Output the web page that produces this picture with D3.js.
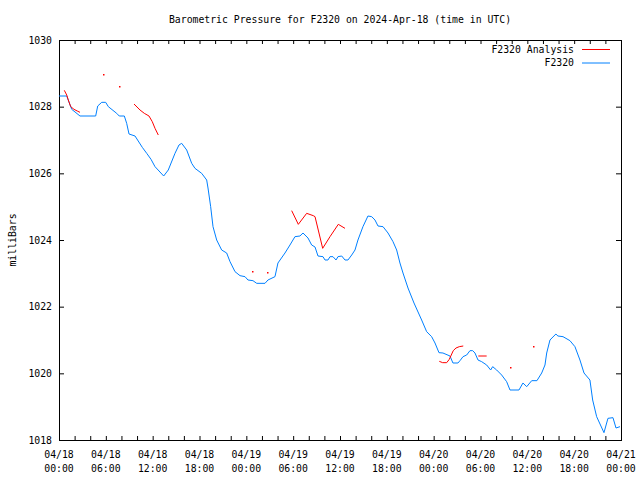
<!DOCTYPE html>
<html>
<head>
<meta charset="utf-8">
<script src="https://cdn.jsdelivr.net/npm/d3@7"></script>
<style>
  body { margin: 0; background: #fff; }
  svg { font-family: "DejaVu Sans Mono", monospace; font-size: 9.8px; }
</style>
</head>
<body>
<div id="chart"></div>
<script>
// hours since 2024-04-18 00:00 UTC
var stationHours = [0, 0.99, 1.63, 2.69, 4.70, 4.96, 5.47, 5.98, 6.32, 7.39, 7.72, 8.37, 8.67, 8.97, 9.74,
    10.67, 11.24, 11.79, 12.30, 13.41, 14.00, 14.86, 15.37, 15.72, 16.36, 17.00, 17.42, 18.28, 18.92, 19.09,
    19.43, 19.73, 20.20, 20.84, 21.48, 21.91, 22.55, 23.19, 23.83, 24.21, 24.85, 25.33, 26.39, 26.77, 27.67,
    28.05, 28.95, 29.59, 30.23, 30.87, 31.26, 31.90, 32.37, 32.80, 33.18, 33.82, 34.08, 34.46, 34.72, 35.10,
    35.49, 35.74, 36.22, 36.64, 37.02, 37.50, 37.92, 38.30, 38.94, 39.58, 40.06, 40.48, 40.87, 41.51, 42.15,
    42.79, 43.26, 43.68, 44.07, 44.71, 45.48, 46.46, 47.10, 47.74, 48.17, 48.68, 49.19, 50.09, 50.47, 51.11,
    51.37, 51.76, 52.23, 52.65, 53.00, 53.29, 53.68, 54.15, 54.79, 55.30, 55.56, 56.07, 56.71, 57.35, 57.78,
    58.93, 59.44, 59.92, 60.56, 61.23, 61.84, 62.26, 62.48, 62.90, 63.66, 63.92, 64.57, 65.46, 66.10, 66.74,
    67.26, 68.02, 68.37, 68.88, 69.82, 70.33, 70.97, 71.36, 71.87];
var stationPressure = [1028.32, 1028.32, 1027.92, 1027.72, 1027.72, 1028.02, 1028.13, 1028.13, 1028.00, 1027.80, 1027.72, 1027.72, 1027.50, 1027.18, 1027.12,
    1026.78, 1026.60, 1026.42, 1026.20, 1025.92, 1026.10, 1026.60, 1026.85, 1026.90, 1026.70, 1026.30, 1026.15, 1026.00, 1025.80, 1025.56,
    1025.00, 1024.40, 1024.00, 1023.70, 1023.61, 1023.35, 1023.05, 1022.93, 1022.90, 1022.80, 1022.78, 1022.70, 1022.70, 1022.80, 1022.90,
    1023.31, 1023.61, 1023.85, 1024.10, 1024.12, 1024.21, 1024.06, 1023.85, 1023.79, 1023.52, 1023.50, 1023.40, 1023.40, 1023.50, 1023.50,
    1023.40, 1023.50, 1023.52, 1023.40, 1023.40, 1023.55, 1023.70, 1024.00, 1024.40, 1024.72, 1024.70, 1024.60, 1024.42, 1024.40, 1024.21,
    1023.95, 1023.70, 1023.31, 1023.01, 1022.56, 1022.11, 1021.60, 1021.25, 1021.10, 1020.91, 1020.62, 1020.61, 1020.52, 1020.31, 1020.31,
    1020.38, 1020.50, 1020.55, 1020.68, 1020.68, 1020.61, 1020.40, 1020.35, 1020.25, 1020.10, 1020.20, 1020.10, 1019.95, 1019.75, 1019.50,
    1019.50, 1019.71, 1019.60, 1019.78, 1019.78, 1020.01, 1020.25, 1020.61, 1021.00, 1021.18, 1021.12, 1021.10, 1020.98, 1020.80, 1020.40,
    1020.01, 1019.80, 1019.20, 1018.70, 1018.22, 1018.65, 1018.67, 1018.36, 1018.40];

// analysis: null breaks the line
var analysisHours = [0.68, 0.99, 1.19, 1.50, 1.92, 2.34, 2.69, null, 5.68, null, 7.73, null,
    9.61, 10.38, 10.93, 11.53, 11.95, 12.30, 12.72, null, 24.76, null, 26.69, null,
    29.81, 30.66, 31.73, 32.58, 32.80, 33.78, 34.72, 35.78, 36.64, null,
    48.72, 49.15, 49.67, 50.00, 50.51, 50.86, 51.28, 51.79, null, 53.72, 54.79, null,
    57.78, null, 60.76];
var analysisPressure = [1028.49, 1028.35, 1028.20, 1028.00, 1027.92, 1027.87, 1027.83, null, 1028.98, null, 1028.62, null,
    1028.08, 1027.90, 1027.80, 1027.72, 1027.55, 1027.35, 1027.15, null, 1023.06, null, 1023.03, null,
    1024.88, 1024.47, 1024.80, 1024.73, 1024.70, 1023.75, 1024.10, 1024.47, 1024.35, null,
    1020.36, 1020.32, 1020.32, 1020.42, 1020.68, 1020.76, 1020.80, 1020.82, null, 1020.52, 1020.52, null,
    1020.18, null, 1020.82];

var yTicks = [1018, 1020, 1022, 1024, 1026, 1028, 1030];
var titleText = "Barometric Pressure for F2320 on 2024-Apr-18 (time in UTC)";
var yLabel = "milliBars";
var seriesNames = ["F2320 Analysis", "F2320"];
var seriesColors = ["#ff0000", "#0080ff"];

var width = 640, height = 480,
    margin = { top: 40, right: 19, bottom: 40, left: 59 },
    innerWidth = width - margin.left - margin.right,
    innerHeight = height - margin.top - margin.bottom;

var t0 = new Date(Date.UTC(2024, 3, 18));
function toDate(h) { return new Date(t0.getTime() + h * 3600e3); }

var xScale = d3.scaleUtc().domain([t0, toDate(72)]).range([0, innerWidth]);
var yScale = d3.scaleLinear().domain([1018, 1030]).range([innerHeight, 0]);

var svg = d3.select("#chart").append("svg")
    .attr("width", width)
    .attr("height", height);

var g = svg.append("g")
    .attr("transform", "translate(" + margin.left + "," + margin.top + ")");

// x ticks every 2h, bottom and top (inward)
var tick2h = d3.utcHour.every(2).range(t0, toDate(72.01));
var tick6h = d3.utcHour.every(6).range(t0, toDate(72.01));

g.append("g")
    .attr("transform", "translate(0," + innerHeight + ")")
    .call(d3.axisBottom(xScale).tickValues(tick2h).tickSize(-4).tickFormat(""));
g.append("g")
    .call(d3.axisTop(xScale).tickValues(tick2h).tickSize(-4).tickFormat(""));

// y axes
g.append("g")
    .call(d3.axisLeft(yScale).tickValues(yTicks).tickSize(-5).tickPadding(7).tickFormat(d3.format("d")));
g.append("g")
    .attr("transform", "translate(" + innerWidth + ",0)")
    .call(d3.axisRight(yScale).tickValues(yTicks).tickSize(-5).tickFormat(""));

g.selectAll(".domain").remove();
// drop the empty labels of the tick-only axes
g.selectAll(".tick text").filter(function() { return this.textContent === ""; }).remove();
g.selectAll(".tick line").attr("stroke", "#000");
g.selectAll(".tick text").attr("fill", "#000").style("font-family", "DejaVu Sans Mono").style("font-size", "9.8px");

// two-line time labels under the plot
var fmtDay = d3.utcFormat("%m/%d"), fmtTime = d3.utcFormat("%H:%M");
var xLab = g.append("g")
    .attr("class", "x labels")
    .attr("transform", "translate(0," + innerHeight + ")")
    .attr("text-anchor", "middle");
xLab.selectAll(".day")
    .data(tick6h)
    .enter().append("text")
    .attr("class", "day")
    .attr("x", function(d) { return xScale(d); })
    .attr("y", 14)
    .attr("dy", "0.36em")
    .text(fmtDay);
xLab.selectAll(".time")
    .data(tick6h)
    .enter().append("text")
    .attr("class", "time")
    .attr("x", function(d) { return xScale(d); })
    .attr("y", 28)
    .attr("dy", "0.36em")
    .text(fmtTime);

// frame
g.append("rect")
    .attr("x", 0.5).attr("y", 0.5)
    .attr("width", innerWidth).attr("height", innerHeight)
    .attr("fill", "none").attr("stroke", "#000");

var stationData = stationHours.map(function(h, i) { return [toDate(h), stationPressure[i]]; });
var analysisData = analysisHours.map(function(h, i) {
    return h === null ? null : [toDate(h), analysisPressure[i]];
});

var line = d3.line()
    .defined(function(d) { return d !== null; })
    .x(function(d) { return xScale(d[0]); })
    .y(function(d) { return yScale(d[1]); });

g.append("path")
    .datum(stationData)
    .attr("fill", "none")
    .attr("stroke", seriesColors[1])
    .attr("stroke-width", 1)
    .attr("d", line);

g.append("path")
    .datum(analysisData)
    .attr("fill", "none")
    .attr("stroke", seriesColors[0])
    .attr("stroke-width", 1)
    .attr("d", line);

// isolated analysis points
var lone = analysisData.filter(function(d, i) {
    return d !== null && !analysisData[i - 1] && !analysisData[i + 1];
});
g.selectAll(".dot")
    .data(lone)
    .enter().append("rect")
    .attr("class", "dot")
    .attr("x", function(d) { return Math.round(xScale(d[0])); })
    .attr("y", function(d) { return Math.round(yScale(d[1])); })
    .attr("width", 1.5).attr("height", 1.5)
    .attr("fill", seriesColors[0]);

// title
svg.append("text")
    .attr("x", margin.left + innerWidth / 2)
    .attr("y", 23)
    .attr("text-anchor", "middle")
    .text(titleText);

// y label
svg.append("text")
    .attr("transform", "translate(16," + (margin.top + innerHeight / 2) + ") rotate(-90)")
    .attr("text-anchor", "middle")
    .text(yLabel);

// legend
var legend = svg.append("g").attr("transform", "translate(574,49)");
seriesNames.forEach(function(name, i) {
    var row = legend.append("g").attr("transform", "translate(0," + (i * 13.5) + ")");
    row.append("text")
        .attr("text-anchor", "end")
        .attr("dy", "0.36em")
        .text(name);
    row.append("line")
        .attr("x1", 8).attr("x2", 36)
        .attr("y1", 0.5).attr("y2", 0.5)
        .attr("stroke", seriesColors[i]);
});
</script>
</body>
</html>
